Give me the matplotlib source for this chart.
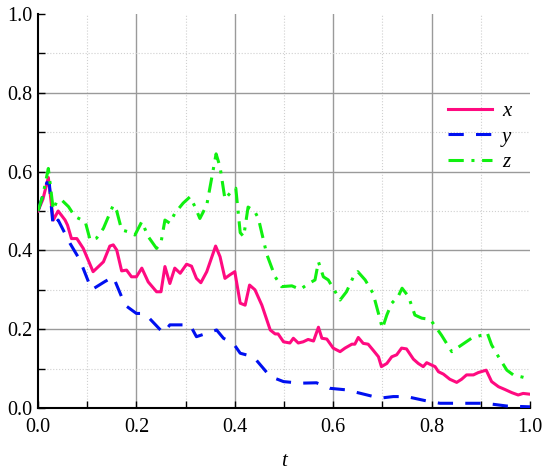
import matplotlib
matplotlib.use("Agg")
import matplotlib.pyplot as plt
from matplotlib.ticker import MultipleLocator

# ---- data ----
t_x = [0.0, 0.01, 0.021, 0.031, 0.041, 0.055, 0.06, 0.068, 0.079, 0.092, 0.112, 0.133, 0.146, 0.153, 0.16,
       0.17, 0.18, 0.19, 0.20, 0.211, 0.224, 0.241, 0.25, 0.258, 0.268, 0.278, 0.289, 0.302, 0.312, 0.322,
       0.331, 0.343, 0.361, 0.37, 0.38, 0.39, 0.40, 0.411, 0.421, 0.43, 0.441, 0.455, 0.472, 0.482, 0.488,
       0.499, 0.512, 0.519, 0.529, 0.539, 0.549, 0.56, 0.57, 0.577, 0.587, 0.60, 0.614, 0.624, 0.638, 0.644,
       0.651, 0.661, 0.671, 0.681, 0.692, 0.698, 0.709, 0.719, 0.729, 0.739, 0.749, 0.763, 0.773, 0.783,
       0.79, 0.80, 0.807, 0.814, 0.824, 0.837, 0.851, 0.861, 0.871, 0.885, 0.895, 0.911, 0.922, 0.936,
       0.949, 0.963, 0.976, 0.986, 1.0]
x_vals = [0.50, 0.53, 0.585, 0.477, 0.50, 0.477, 0.464, 0.43, 0.43, 0.405, 0.346, 0.371, 0.411, 0.414, 0.401,
          0.348, 0.35, 0.333, 0.333, 0.355, 0.32, 0.295, 0.295, 0.359, 0.316, 0.355, 0.342, 0.365, 0.36, 0.329,
          0.318, 0.346, 0.411, 0.384, 0.329, 0.338, 0.346, 0.266, 0.261, 0.312, 0.30, 0.261, 0.198, 0.188, 0.188,
          0.168, 0.165, 0.177, 0.165, 0.168, 0.174, 0.17, 0.205, 0.177, 0.175, 0.152, 0.143, 0.152, 0.162, 0.162,
          0.179, 0.164, 0.162, 0.147, 0.13, 0.105, 0.113, 0.13, 0.135, 0.152, 0.15, 0.124, 0.113, 0.105,
          0.115, 0.109, 0.105, 0.092, 0.086, 0.073, 0.065, 0.073, 0.084, 0.084, 0.09, 0.096, 0.067, 0.054,
          0.047, 0.039, 0.033, 0.037, 0.035]

t_y = [0.0, 0.018, 0.023, 0.028, 0.031, 0.041, 0.065, 0.085, 0.109, 0.136, 0.153, 0.177, 0.20, 0.217, 0.255,
       0.268, 0.309, 0.322, 0.363, 0.377, 0.397, 0.411, 0.438, 0.472, 0.499, 0.533, 0.566, 0.593, 0.627,
       0.695, 0.722, 0.749, 0.797, 0.817, 0.909, 0.953, 1.0]
y_vals = [0.50, 0.572, 0.57, 0.498, 0.46, 0.477, 0.418, 0.376, 0.30, 0.321, 0.333, 0.261, 0.24, 0.24, 0.19,
          0.211, 0.211, 0.181, 0.198, 0.177, 0.164, 0.139, 0.13, 0.08, 0.067, 0.063, 0.064, 0.05, 0.046,
          0.025, 0.029, 0.029, 0.016, 0.012, 0.012, 0.005, 0.003]

t_z = [0.0, 0.01, 0.021, 0.031, 0.038, 0.048, 0.062, 0.075, 0.096, 0.106, 0.119, 0.133, 0.153, 0.16, 0.17,
       0.184, 0.197, 0.211, 0.224, 0.241, 0.25, 0.258, 0.268, 0.278, 0.295, 0.309, 0.319, 0.329, 0.343,
       0.362, 0.37, 0.38, 0.39, 0.402, 0.411, 0.418, 0.427, 0.44, 0.448, 0.465, 0.482, 0.495, 0.516, 0.533,
       0.549, 0.563, 0.57, 0.58, 0.59, 0.60, 0.614, 0.627, 0.641, 0.65, 0.665, 0.681, 0.692, 0.70, 0.709,
       0.719, 0.732, 0.74, 0.753, 0.766, 0.78, 0.797, 0.803, 0.82, 0.841, 0.861, 0.881, 0.902, 0.913, 0.922,
       0.936, 0.953, 0.966, 0.986, 1.0]
z_vals = [0.50, 0.54, 0.608, 0.503, 0.524, 0.528, 0.511, 0.486, 0.473, 0.426, 0.431, 0.456, 0.515, 0.50, 0.452,
          0.447, 0.439, 0.473, 0.435, 0.405, 0.42, 0.477, 0.469, 0.494, 0.52, 0.536, 0.511, 0.481, 0.515,
          0.645, 0.612, 0.53, 0.545, 0.558, 0.445, 0.435, 0.51, 0.50, 0.481, 0.39, 0.333, 0.308, 0.31, 0.301,
          0.315, 0.325, 0.371, 0.333, 0.325, 0.304, 0.274, 0.295, 0.333, 0.346, 0.325, 0.291, 0.24, 0.202, 0.236,
          0.266, 0.283, 0.304, 0.283, 0.236, 0.228, 0.225, 0.215, 0.185, 0.143, 0.16, 0.177, 0.185, 0.191, 0.16,
          0.13, 0.096, 0.084, 0.078, 0.073]

x_ticks = [0.0, 0.2, 0.4, 0.6, 0.8, 1.0]
y_ticks = [0.0, 0.2, 0.4, 0.6, 0.8, 1.0]

plt.rcParams['font.family'] = ['Liberation Serif', 'DejaVu Serif']

fig = plt.figure(figsize=(5.5, 4.72), dpi=100)
ax = fig.add_axes([38/550, 64/472, 492/550, 394/472])

ax.plot(t_x, x_vals, color='#FF0A80', lw=2.2, label='x', zorder=3)
ax.plot(t_y, y_vals, color='#0010F0', lw=2.2, dashes=(5, 4), label='y', zorder=3)
ax.plot(t_z, z_vals, color='#10F010', lw=2.2, dashes=(5, 2.5, 1, 2.5), label='z', zorder=3)

ax.set_xlim(0, 1)
ax.set_ylim(0, 1)
ax.set_xticks(x_ticks)
ax.set_yticks(y_ticks)
ax.set_xticklabels([f"{v:.1f}" for v in x_ticks])
ax.set_yticklabels([f"{v:.1f}" for v in y_ticks])
ax.xaxis.set_minor_locator(MultipleLocator(0.1))
ax.yaxis.set_minor_locator(MultipleLocator(0.1))

ax.tick_params(which='both', direction='in', length=5, width=1.0, labelsize=14.5, color='black')
ax.tick_params(axis='x', which='major', pad=7)
ax.tick_params(axis='y', which='major', pad=4)

ax.grid(which='major', color='#9a9a9a', lw=1.0, ls='-')
ax.grid(which='minor', color='#d0d0d0', lw=0.8, ls=':')
ax.set_axisbelow(True)

for gl, v in zip(ax.xaxis.get_gridlines(), x_ticks):
    if v in (0.0, 1.0):
        gl.set_visible(False)
for gl, v in zip(ax.yaxis.get_gridlines(), y_ticks):
    if v in (0.0, 1.0):
        gl.set_visible(False)

for s in ['top', 'right']:
    ax.spines[s].set_visible(False)
for s in ['left', 'bottom']:
    ax.spines[s].set_linewidth(1.5)
    ax.spines[s].set_color('black')

ax.set_xlabel('t', fontsize=15, fontstyle='italic', labelpad=11)

leg = ax.legend(loc='upper right', bbox_to_anchor=(1.0, 0.825), frameon=False,
                prop={'style': 'italic', 'size': 15}, handlelength=2.1,
                labelspacing=0.28, handletextpad=0.5)

fig.savefig('out.png', dpi=100)
